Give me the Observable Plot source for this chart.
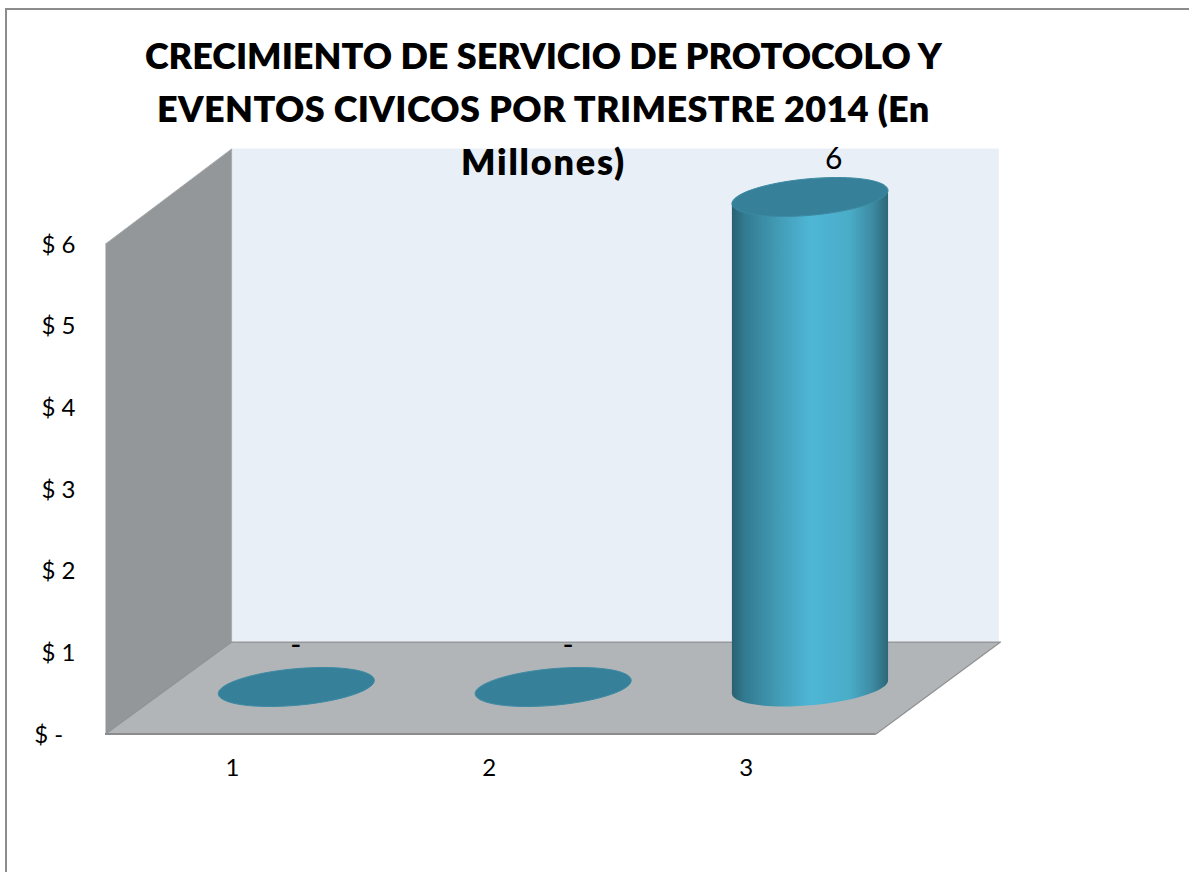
<!DOCTYPE html>
<html><head><meta charset="utf-8">
<script src="https://cdn.jsdelivr.net/npm/d3@7"></script>
<script src="https://cdn.jsdelivr.net/npm/@observablehq/plot@0.6"></script>
<style>
html,body{margin:0;padding:0;background:#fff;overflow:hidden}
#frame{position:absolute;left:5px;top:8px;right:0;bottom:0;border-left:2px solid #8c8c8c;border-top:2px solid #8c8c8c}
#chart{position:absolute;left:0;top:0}
svg{display:block}
</style></head><body>
<div id="frame"></div><div id="chart"></div>
<script>
const titleLines = ["CRECIMIENTO DE SERVICIO DE PROTOCOLO Y", "EVENTOS CIVICOS POR TRIMESTRE 2014 (En", "Millones)"];
const quarters = [1, 2, 3];
const values = [0, 0, 6];
const valueLabels = ["-", "-", "6"];
const labelXs = [1, 2.06, 3.094];
const labelYs = [0.01, 0.01, 5.96];
const yTicks = [0, 1, 2, 3, 4, 5, 6];
const yTickLabels = ["$ -\u00a0\u00a0", "$ 1", "$ 2", "$ 3", "$ 4", "$ 5", "$ 6"];
const floorXs = [0.5, 3.5, 3.985, 0.991, 0.5];
const floorYs = [0, 0, 1.126, 1.126, 0];
const sideXs = [0.5, 0.991, 0.991, 0.5];
const sideYs = [0, 1.126, 7.163, 6];
const backX = [0.991, 3.98];
const backY = [1.126, 7.163];

const FONT = "Lato, Carlito, sans-serif";
const halfWidth = 0.304;
const capTilt = 0.081;
// Cylinder cap: a circle lying on the sheared floor plane
const cap = {draw(c) {
  const ux = 73.4, vx = 26.5, vy = -19.5, k = 0.5523;
  const P = (a, b) => [ux * a + vx * b, vy * b];
  c.moveTo(...P(1, 0));
  c.bezierCurveTo(...P(1, k), ...P(k, 1), ...P(0, 1));
  c.bezierCurveTo(...P(-k, 1), ...P(-1, k), ...P(-1, 0));
  c.bezierCurveTo(...P(-1, -k), ...P(-k, -1), ...P(0, -1));
  c.bezierCurveTo(...P(k, -1), ...P(1, -k), ...P(1, 0));
  c.closePath();
}};
const rows = quarters.map((q, i) => ({q, v: values[i], label: valueLabels[i], lx: labelXs[i], ly: labelYs[i]}));
const standing = rows.filter(d => d.v > 0);
const bodyOutline = standing.flatMap(d => [
  [d.q - halfWidth, -capTilt], [d.q - halfWidth, d.v - capTilt],
  [d.q + halfWidth, d.v + capTilt], [d.q + halfWidth, capTilt]
]);
const depth = {dx: 62.4, dy: -47};

const svg = Plot.plot({
  width: 1189, height: 872,
  marginLeft: 105, marginRight: 313, marginTop: 243, marginBottom: 139,
  style: {background: "transparent", fontFamily: FONT},
  x: {domain: [0.5, 3.5], range: [105, 875.5], label: null},
  y: {domain: [0, 6], range: [733.5, 243.5], label: null},
  marks: [
    Plot.rect([0], {x1: () => backX[0], x2: () => backX[1], y1: () => backY[0], y2: () => backY[1], fill: "#e8eff6"}),
    Plot.line(sideXs.map((x, i) => [x, sideYs[i]]), {fill: "#94979a", stroke: "#a9acae", strokeWidth: 1}),
    Plot.line(floorXs.map((x, i) => [x, floorYs[i]]), {fill: "#b1b5b8", stroke: "#8f9193", strokeWidth: 1.2}),
    Plot.ruleY([0], {x1: 0.5, x2: 3.5, stroke: "#8a8c8e", strokeWidth: 2}),
    Plot.dot(standing, {x: "q", y: () => 0, r: 1, symbol: cap, fill: "url(#cyl)", stroke: "none", ...depth}),
    Plot.line(bodyOutline, {fill: "url(#cyl)", stroke: "none", ...depth}),
    Plot.dot(rows, {x: "q", y: "v", r: 1, symbol: cap, fill: "#37809a", stroke: "#3c8aa3", strokeWidth: 1, ...depth}),
    Plot.text(rows, {x: "lx", y: "ly", text: "label", fill: "#000", fontSize: 30, dx: 62, dy: -88}),
    Plot.axisY({ticks: yTicks, tickFormat: d => yTickLabels[yTicks.indexOf(d)], tickSize: 0, tickPadding: 30, dy: 1, fontSize: 24, fill: "#000", label: null}),
    Plot.axisX({ticks: quarters, tickFormat: d => String(d), tickSize: 0, tickPadding: 25, dx: -1.5, fontSize: 24, fill: "#000", label: null}),
    Plot.text([titleLines.join("\n")], {x: () => 2.205, y: () => 7.7, text: d => d, fontSize: 36, fontWeight: 800, lineHeight: 1.47, fill: "#000", fontFamily: FONT, className: "chart-title"})
  ]
});
const defs = d3.select(svg).insert("defs", ":first-child");
const g = defs.append("linearGradient").attr("id", "cyl").attr("x1", 0).attr("x2", 1).attr("y1", 0).attr("y2", 0);
[[0, "#2a6072"], [0.08, "#327a90"], [0.3, "#439cb6"], [0.5, "#4eb6d6"], [0.75, "#4aadc8"], [0.9, "#3d8ba3"], [1, "#2c6778"]]
  .forEach(([o, c]) => g.append("stop").attr("offset", o).attr("stop-color", c));
const titleSpacing = ["0px", "0.38px", "1.8px"];
d3.select(svg).selectAll(".chart-title tspan").style("letter-spacing", (d, i) => titleSpacing[i]);
document.getElementById("chart").appendChild(svg);
</script>
</body></html>
